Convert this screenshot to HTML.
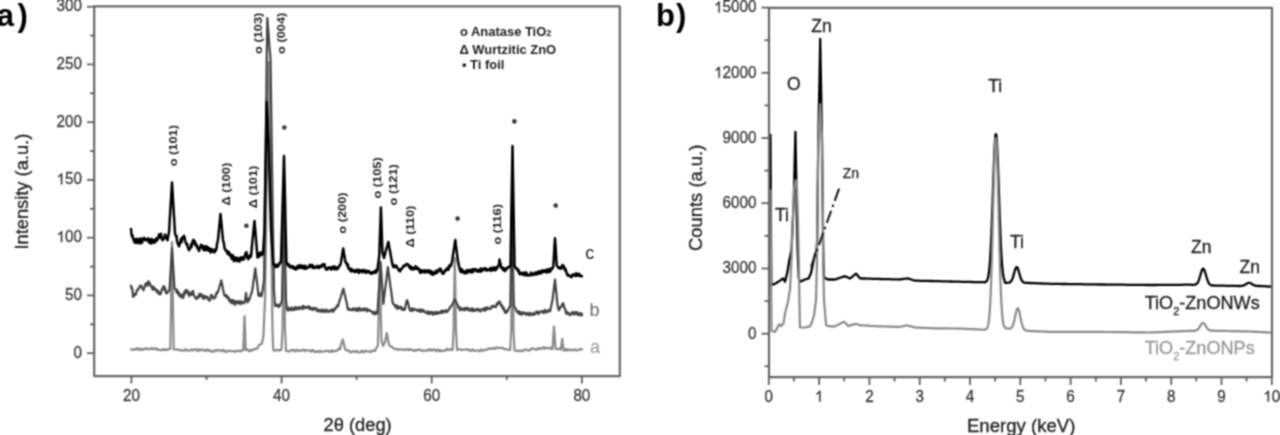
<!DOCTYPE html>
<html><head><meta charset="utf-8"><style>
html,body{margin:0;padding:0;background:#fff;width:1280px;height:435px;overflow:hidden;}
svg{display:block;font-family:"Liberation Sans",sans-serif;}
</style></head><body>
<svg width="1280" height="435" viewBox="0 0 1280 435" font-family="&quot;Liberation Sans&quot;, sans-serif">
<defs><filter id="bl" filterUnits="userSpaceOnUse" x="0" y="0" width="1280" height="435" color-interpolation-filters="sRGB"><feConvolveMatrix order="3" kernelMatrix="1 2 1 2 4 2 1 2 1" divisor="16" edgeMode="duplicate"/></filter></defs>
<rect width="1280" height="435" fill="#fff"/>
<g filter="url(#bl)">
<g fill="none" stroke-linejoin="round" stroke-linecap="round">
<path d="M131.0,349.2 L132.0,349.7 L133.0,349.3 L134.0,349.7 L135.0,349.7 L136.0,348.5 L137.0,348.3 L138.0,349.9 L139.0,348.7 L140.0,348.6 L141.0,350.1 L142.0,348.9 L143.0,349.6 L144.0,348.8 L145.0,349.1 L146.0,348.1 L147.0,349.0 L148.0,349.4 L149.0,348.6 L150.0,349.0 L151.0,348.9 L152.0,347.8 L153.0,349.3 L154.0,349.1 L155.0,348.6 L156.0,348.2 L157.0,349.9 L158.0,349.2 L159.0,349.8 L160.0,350.3 L161.0,349.9 L162.1,350.2 L163.1,349.1 L164.1,349.9 L165.2,349.1 L166.2,350.1 L167.2,349.9 L168.2,349.1 L169.3,349.1 L170.3,349.0 L171.2,295.5 L172.0,242.0 L172.8,295.8 L173.7,349.5 L174.7,349.5 L175.7,349.5 L176.7,349.3 L177.7,349.7 L178.8,349.8 L179.8,350.4 L180.8,350.0 L181.8,350.5 L182.8,350.4 L183.8,350.7 L184.8,350.1 L185.8,349.1 L186.8,350.5 L187.9,350.7 L188.9,350.6 L189.9,349.9 L190.9,350.3 L191.9,349.3 L192.9,350.5 L193.9,350.0 L194.9,349.5 L196.0,349.0 L197.0,350.7 L198.0,350.9 L199.0,349.2 L200.0,350.6 L201.0,349.9 L202.0,349.4 L203.0,349.7 L204.0,350.8 L205.0,351.0 L206.0,349.4 L207.0,350.6 L208.0,349.5 L209.0,350.9 L210.0,350.2 L211.0,351.3 L212.0,351.6 L213.0,350.7 L214.0,351.7 L215.0,350.4 L216.0,350.0 L217.0,351.0 L218.0,349.9 L219.0,350.2 L220.0,350.7 L221.0,351.1 L222.0,350.2 L223.0,349.9 L224.0,351.6 L225.0,350.5 L226.0,351.8 L227.0,351.7 L228.0,350.7 L229.0,350.8 L230.0,351.0 L231.0,351.2 L232.0,351.1 L233.0,351.1 L234.0,351.2 L235.0,351.8 L236.0,351.0 L237.0,350.8 L238.0,351.4 L239.0,350.5 L240.0,350.6 L241.1,351.6 L242.2,350.3 L243.3,350.0 L244.5,316.2 L245.7,350.0 L246.8,350.2 L247.8,349.5 L248.9,351.0 L250.0,351.3 L251.0,349.7 L252.0,350.5 L253.0,349.7 L254.0,349.8 L255.0,348.7 L256.0,349.1 L257.0,348.8 L258.0,347.0 L259.0,345.1 L260.0,344.4 L261.0,344.4 L262.0,343.0 L262.8,339.0 L263.5,335.0 L264.2,317.5 L265.0,300.0 L265.8,250.0 L266.5,200.0 L267.5,131.0 L268.5,62.0 L269.2,106.0 L270.0,150.0 L270.8,200.0 L271.5,250.0 L272.5,330.0 L273.3,350.3 L274.3,350.3 L275.4,350.9 L276.4,349.8 L277.4,349.7 L278.4,350.2 L279.4,350.7 L280.5,349.5 L281.5,349.9 L282.5,330.0 L283.2,290.0 L284.0,250.0 L285.0,330.0 L286.0,351.0 L287.0,350.9 L288.0,351.2 L289.0,351.6 L290.0,350.7 L291.0,350.2 L292.0,349.9 L293.0,350.7 L294.0,350.0 L295.0,351.2 L296.0,351.2 L297.0,349.8 L298.0,350.0 L299.0,351.0 L300.0,350.6 L301.0,351.0 L302.0,350.1 L303.0,349.7 L304.0,350.1 L305.0,351.1 L306.0,350.1 L307.0,350.3 L308.0,350.5 L309.0,350.5 L310.0,350.6 L311.0,351.6 L312.0,350.1 L313.0,349.9 L314.0,351.8 L315.0,351.7 L316.0,352.0 L317.0,350.9 L318.0,352.0 L319.0,352.0 L320.0,350.6 L321.0,351.7 L322.0,351.9 L323.0,351.6 L324.0,351.4 L325.0,351.0 L326.0,351.1 L327.0,350.9 L328.0,350.6 L329.0,351.7 L330.0,351.2 L331.0,352.0 L332.0,350.2 L333.0,351.6 L334.0,350.9 L335.0,351.1 L336.0,350.8 L337.0,350.6 L338.0,349.7 L339.0,348.3 L340.0,349.5 L340.9,345.1 L341.9,342.1 L342.8,339.5 L343.9,344.1 L345.0,348.8 L346.0,350.4 L347.0,350.3 L348.0,350.2 L349.0,350.6 L350.0,352.3 L351.0,351.6 L352.0,352.2 L353.0,351.3 L354.0,351.0 L355.0,351.7 L356.0,352.2 L357.0,350.9 L358.0,352.2 L359.0,352.4 L360.0,352.2 L361.0,352.2 L362.0,350.6 L363.0,351.9 L364.0,352.3 L365.0,350.7 L366.0,351.1 L367.0,351.1 L368.0,351.7 L369.0,351.4 L370.0,351.5 L371.0,352.2 L372.0,350.6 L373.0,350.7 L374.0,350.9 L375.0,350.8 L376.0,348.5 L377.0,347.2 L378.0,345.0 L378.8,308.5 L379.6,272.0 L380.6,306.0 L381.5,340.0 L382.2,343.0 L383.0,346.0 L384.0,344.0 L385.0,342.0 L385.9,337.5 L386.8,333.0 L387.9,339.0 L389.0,345.0 L390.0,345.9 L391.0,346.5 L392.0,346.8 L393.0,347.9 L394.0,348.4 L395.0,349.0 L396.0,349.5 L397.0,348.8 L398.0,349.8 L399.0,349.6 L400.0,349.4 L401.0,349.3 L402.0,349.5 L403.0,350.0 L404.0,349.5 L405.0,350.0 L406.0,349.6 L407.0,349.2 L408.0,349.8 L409.0,350.1 L410.0,348.9 L411.0,349.7 L412.0,349.7 L413.0,350.6 L414.0,350.8 L415.0,349.7 L416.0,350.7 L417.0,350.5 L418.0,349.5 L419.0,350.0 L420.0,349.3 L421.0,350.7 L422.0,350.4 L423.0,350.9 L424.0,350.7 L425.0,350.5 L426.0,350.7 L427.0,350.4 L428.0,349.5 L429.0,350.5 L430.0,349.3 L431.0,349.6 L432.0,350.9 L433.0,349.5 L434.0,349.6 L435.0,349.7 L436.0,351.3 L437.0,349.9 L438.0,349.6 L439.0,351.3 L440.0,349.8 L441.0,351.2 L442.0,350.7 L443.0,350.9 L444.0,351.0 L445.0,350.1 L446.0,350.4 L447.0,348.7 L448.0,350.0 L448.9,349.6 L449.8,350.1 L450.8,349.0 L451.7,349.9 L452.6,350.0 L453.6,330.0 L454.8,258.0 L456.0,330.0 L457.0,350.0 L458.0,349.8 L459.0,349.0 L460.0,349.0 L461.0,349.8 L462.0,350.1 L463.0,349.5 L464.0,349.5 L465.0,349.6 L466.0,349.5 L467.0,349.7 L468.0,349.1 L469.0,350.0 L470.0,351.0 L471.0,349.9 L472.0,350.7 L473.0,349.5 L474.0,350.7 L475.0,350.8 L476.0,350.7 L477.0,350.5 L478.0,350.5 L479.0,350.8 L480.0,351.4 L481.0,349.7 L482.0,349.5 L482.9,350.6 L483.9,350.8 L484.9,349.8 L485.9,349.5 L486.9,349.9 L487.8,348.7 L488.8,348.7 L489.8,348.4 L490.8,349.0 L491.7,348.3 L492.7,347.9 L493.7,348.7 L494.7,349.1 L495.7,347.6 L496.6,348.2 L497.6,347.5 L498.6,348.2 L499.7,348.0 L500.7,347.7 L501.8,347.9 L502.9,347.9 L503.9,349.1 L505.0,349.3 L506.0,348.9 L507.1,349.4 L508.1,349.8 L509.2,349.9 L510.2,350.0 L511.2,330.0 L512.3,240.0 L513.5,330.0 L514.5,350.5 L515.4,350.5 L516.3,351.2 L517.2,350.7 L518.2,350.5 L519.1,351.0 L520.0,351.3 L521.0,350.3 L522.0,350.9 L523.0,351.2 L524.0,350.1 L525.0,349.5 L526.0,349.4 L527.0,350.3 L528.0,350.1 L529.0,350.6 L530.0,350.3 L531.0,348.9 L532.0,348.7 L533.0,348.8 L534.0,348.5 L535.0,349.4 L536.0,349.6 L537.0,349.6 L538.0,348.2 L539.0,349.3 L540.0,348.1 L541.0,348.3 L542.0,348.8 L543.0,347.5 L544.0,347.4 L545.0,348.9 L546.0,347.7 L547.0,347.8 L548.0,348.2 L549.1,348.6 L550.2,347.5 L551.4,348.8 L552.5,349.0 L553.2,337.9 L554.0,326.7 L554.8,337.9 L555.6,349.0 L556.6,349.1 L557.7,349.2 L558.7,348.5 L559.8,348.9 L560.8,349.8 L562.2,338.9 L563.6,350.3 L564.7,350.4 L565.7,348.8 L566.8,350.5 L567.9,349.4 L568.9,350.2 L570.0,350.2 L571.0,349.3 L572.0,350.1 L573.0,350.0 L574.0,350.3 L575.0,349.2 L576.0,350.2 L577.0,350.6 L578.0,350.0 L579.0,349.8 L580.0,348.9 L581.0,349.7 L582.0,349.4" stroke="#8a8a8a" stroke-width="2.2"/>
<path d="M131.0,285.6 L131.5,288.5 L132.0,287.6 L132.5,290.7 L133.0,297.0 L133.5,296.3 L134.0,295.7 L134.5,293.9 L135.0,295.0 L135.5,294.7 L136.0,294.4 L136.5,291.1 L137.0,290.9 L137.5,289.4 L138.0,289.4 L138.5,289.3 L139.0,287.7 L139.5,286.3 L140.0,286.4 L140.5,286.0 L141.0,285.5 L141.5,285.9 L142.0,288.2 L142.5,288.1 L143.0,288.8 L143.5,290.3 L144.0,288.0 L144.5,287.5 L145.0,285.4 L145.5,283.8 L146.0,284.4 L146.5,283.1 L147.0,284.2 L147.5,285.8 L148.0,283.9 L148.5,281.2 L149.0,283.8 L149.5,282.8 L150.0,283.7 L150.5,285.6 L151.0,286.1 L151.5,287.3 L152.0,286.6 L152.5,289.6 L153.0,289.8 L153.5,286.5 L154.0,289.4 L154.5,289.5 L155.0,288.6 L155.5,289.2 L156.0,289.3 L156.5,291.7 L157.0,290.3 L157.5,292.3 L158.0,290.7 L158.5,293.5 L159.0,294.1 L159.5,292.7 L160.0,293.7 L160.5,294.4 L161.0,292.7 L161.5,290.8 L162.0,288.8 L162.5,288.4 L163.0,289.3 L163.5,286.1 L164.0,288.5 L164.5,286.8 L165.0,290.7 L165.5,289.2 L166.0,293.2 L166.5,293.2 L167.0,293.4 L167.5,292.8 L168.0,292.0 L168.5,291.2 L169.0,290.5 L169.5,289.8 L170.0,281.4 L170.5,273.1 L171.0,264.7 L171.5,256.4 L172.0,248.0 L172.5,256.1 L173.0,264.1 L173.5,272.2 L174.0,280.2 L174.5,288.3 L175.0,288.9 L175.5,289.5 L176.0,290.1 L176.5,292.4 L177.0,289.6 L177.5,292.1 L178.0,294.1 L178.5,292.0 L179.0,292.5 L179.5,296.1 L180.0,294.7 L180.5,296.7 L181.0,294.5 L181.5,296.7 L182.0,296.7 L182.5,298.0 L183.0,294.5 L183.5,297.4 L184.0,292.4 L184.5,294.6 L185.0,290.6 L185.5,290.7 L186.0,292.3 L186.5,289.9 L187.0,290.5 L187.5,293.3 L188.0,292.4 L188.5,291.5 L189.0,296.1 L189.5,293.0 L190.0,293.0 L190.5,294.0 L191.0,294.8 L191.5,295.0 L192.0,291.9 L192.5,292.5 L193.0,290.8 L193.5,293.4 L194.0,295.5 L194.5,296.1 L195.0,297.5 L195.5,297.6 L196.0,298.8 L196.5,298.8 L197.0,298.5 L197.5,296.8 L198.0,298.1 L198.5,296.0 L199.0,294.4 L199.5,295.4 L200.0,296.6 L200.5,293.7 L201.0,296.0 L201.5,295.5 L202.0,296.3 L202.5,295.0 L203.0,298.9 L203.5,296.1 L204.0,297.9 L204.5,297.4 L205.0,296.0 L205.5,298.5 L206.0,296.9 L206.5,296.7 L207.0,296.8 L207.5,297.5 L208.0,297.4 L208.5,300.0 L209.0,299.6 L209.5,300.8 L210.0,299.7 L210.5,299.1 L211.0,294.8 L211.5,296.0 L212.0,295.4 L212.5,297.2 L213.0,297.6 L213.5,298.6 L214.0,298.5 L214.5,296.8 L215.0,297.8 L215.5,297.2 L216.0,293.9 L216.5,293.0 L217.0,293.6 L217.5,291.3 L218.0,292.0 L218.5,290.3 L218.9,288.7 L219.4,287.0 L219.9,285.3 L220.4,283.6 L220.8,282.0 L221.3,280.3 L221.8,283.0 L222.4,285.8 L222.9,288.5 L223.5,291.3 L224.0,294.0 L224.5,295.6 L225.0,294.9 L225.5,295.8 L226.0,296.7 L226.5,295.0 L227.0,297.2 L227.5,298.2 L228.0,297.3 L228.5,297.2 L229.0,300.7 L229.5,299.1 L230.0,300.1 L230.5,302.2 L231.0,301.2 L231.5,300.1 L232.0,303.5 L232.5,301.1 L233.0,299.9 L233.5,303.1 L234.0,300.9 L234.5,302.1 L235.0,304.8 L235.5,304.0 L236.0,301.1 L236.5,303.0 L237.0,302.7 L237.5,303.0 L238.0,301.7 L238.5,303.4 L239.0,301.1 L239.5,301.9 L240.0,302.4 L240.5,304.2 L241.0,301.4 L241.5,303.5 L242.0,301.7 L242.5,302.9 L243.0,302.2 L243.5,302.4 L244.0,303.3 L244.5,302.1 L245.0,301.2 L245.5,297.0 L246.0,292.8 L246.5,297.5 L247.0,299.2 L247.5,302.5 L248.0,301.1 L248.5,298.5 L249.0,300.1 L249.5,299.2 L250.0,297.8 L250.5,295.8 L251.0,294.1 L251.5,293.1 L252.0,292.0 L252.5,288.6 L252.9,285.3 L253.4,281.9 L253.9,278.5 L254.4,275.1 L254.8,271.8 L255.3,268.4 L255.8,272.8 L256.3,277.1 L256.9,281.4 L257.4,285.8 L257.9,290.1 L258.4,295.1 L258.9,295.9 L259.4,294.9 L259.9,295.6 L260.5,293.4 L261.0,294.3 L261.5,296.3 L262.0,293.7 L262.5,290.8 L263.0,287.4 L263.5,283.7 L264.0,280.0 L264.5,242.6 L264.9,205.1 L265.4,167.7 L265.9,130.3 L266.4,92.9 L266.8,55.4 L267.3,18.0 L267.8,25.0 L268.4,32.0 L268.9,39.0 L269.4,46.0 L270.0,53.0 L270.5,60.0 L271.0,95.0 L271.5,130.0 L272.0,165.0 L272.5,200.0 L273.0,230.0 L273.5,260.0 L274.0,290.0 L274.5,298.0 L275.0,306.0 L275.5,306.0 L276.0,306.0 L276.5,304.9 L277.0,305.8 L277.5,304.5 L278.0,306.3 L278.5,307.2 L279.0,305.0 L279.5,306.0 L280.0,305.9 L280.5,304.2 L281.0,303.0 L281.5,301.5 L282.0,300.0 L282.5,275.0 L283.0,250.0 L283.5,225.0 L284.0,200.0 L284.5,225.0 L285.0,250.0 L285.5,275.0 L286.0,300.0 L286.5,304.6 L287.0,309.3 L287.5,309.8 L288.0,310.7 L288.5,309.6 L289.0,307.5 L289.5,308.9 L290.0,309.7 L290.5,310.2 L291.0,309.4 L291.5,309.9 L292.0,307.3 L292.5,310.2 L293.0,309.4 L293.5,309.0 L294.0,309.9 L294.5,309.8 L295.0,307.2 L295.5,309.5 L296.0,309.3 L296.5,307.5 L297.0,309.2 L297.5,308.7 L298.0,307.4 L298.5,309.3 L299.0,307.2 L299.5,308.7 L300.0,308.1 L300.5,307.4 L301.0,308.3 L301.5,307.8 L302.0,306.8 L302.5,309.1 L303.0,306.2 L303.5,305.8 L304.0,307.2 L304.5,308.2 L305.0,307.5 L305.5,307.9 L306.0,307.2 L306.5,307.9 L307.0,306.9 L307.5,306.8 L308.0,307.7 L308.5,306.3 L309.0,306.6 L309.5,308.9 L310.0,307.1 L310.5,309.1 L311.0,309.3 L311.5,308.2 L312.0,309.2 L312.5,309.7 L313.0,310.0 L313.5,307.8 L314.0,308.0 L314.5,308.8 L315.0,309.2 L315.5,308.8 L316.0,308.0 L316.5,309.9 L317.0,311.3 L317.5,309.5 L318.0,310.2 L318.5,309.8 L319.0,310.1 L319.5,311.6 L320.0,309.9 L320.5,311.0 L321.0,310.5 L321.5,310.7 L322.0,311.9 L322.5,309.3 L323.0,311.7 L323.5,310.0 L324.0,311.2 L324.5,311.7 L325.0,311.2 L325.5,310.4 L326.0,311.9 L326.5,309.5 L327.0,311.3 L327.5,310.5 L328.0,311.0 L328.5,312.0 L329.0,311.9 L329.5,311.4 L330.0,310.4 L330.5,310.0 L331.0,310.7 L331.5,309.8 L332.0,309.9 L332.5,312.0 L333.0,309.2 L333.5,311.3 L334.0,309.8 L334.5,309.7 L335.0,309.4 L335.5,307.8 L336.0,308.2 L336.5,306.4 L337.0,306.5 L337.5,305.2 L338.0,306.3 L338.5,304.9 L339.0,302.0 L339.5,301.2 L340.0,299.4 L340.5,298.0 L341.0,296.4 L341.5,294.9 L341.9,293.3 L342.4,291.7 L342.9,290.2 L343.4,288.6 L343.9,290.9 L344.4,293.2 L345.0,295.4 L345.5,297.7 L346.0,300.0 L346.5,302.1 L347.0,304.1 L347.5,307.4 L348.0,309.6 L348.5,308.3 L349.0,309.0 L349.5,309.9 L350.0,309.3 L350.5,309.4 L351.0,309.9 L351.5,310.1 L352.0,309.6 L352.5,310.4 L353.0,308.3 L353.5,309.5 L354.0,309.7 L354.5,308.8 L355.0,309.0 L355.5,308.3 L356.0,310.8 L356.5,308.8 L357.0,309.2 L357.5,310.6 L358.0,308.3 L358.5,310.8 L359.0,308.1 L359.5,307.8 L360.0,308.8 L360.5,308.8 L361.0,310.6 L361.5,310.5 L362.0,310.1 L362.5,309.1 L363.0,309.4 L363.5,308.5 L364.0,310.4 L364.5,308.9 L365.0,308.6 L365.5,309.9 L366.0,308.6 L366.5,309.3 L367.0,311.5 L367.5,309.0 L368.0,309.4 L368.5,309.8 L369.0,310.1 L369.5,310.8 L370.0,310.5 L370.5,311.0 L371.0,311.0 L371.5,311.2 L372.0,312.6 L372.4,311.9 L372.9,312.3 L373.4,313.8 L373.9,311.8 L374.4,312.3 L374.9,314.4 L375.4,312.8 L375.9,313.8 L376.5,311.6 L377.0,312.6 L377.5,313.5 L378.0,304.0 L378.5,295.6 L379.1,287.2 L379.6,278.8 L380.1,270.4 L380.6,262.0 L381.1,270.4 L381.7,278.8 L382.2,287.2 L382.8,295.6 L383.3,304.0 L383.8,299.9 L384.3,295.8 L384.8,291.7 L385.3,287.6 L385.9,283.4 L386.4,279.3 L386.9,275.2 L387.4,271.1 L387.9,267.0 L388.4,270.8 L388.9,274.6 L389.4,278.4 L389.9,282.2 L390.4,286.0 L391.0,289.8 L391.5,293.6 L392.0,297.4 L392.5,302.2 L393.0,303.4 L393.5,304.0 L394.0,305.1 L394.5,304.8 L395.0,305.0 L395.5,306.9 L396.0,305.3 L396.5,308.4 L397.0,307.7 L397.5,305.9 L398.0,308.7 L398.5,306.8 L399.0,307.7 L399.5,308.0 L400.0,306.8 L400.5,308.1 L401.0,306.8 L401.5,307.4 L402.0,309.9 L402.5,309.7 L403.0,308.8 L403.5,309.5 L404.0,310.2 L404.5,308.0 L405.0,309.3 L405.5,306.0 L406.0,303.9 L406.5,301.8 L407.0,300.1 L407.5,301.0 L408.0,302.9 L408.5,304.8 L409.0,306.9 L409.5,309.1 L410.0,310.6 L410.5,310.0 L411.0,309.4 L411.5,310.8 L412.0,308.4 L412.5,308.3 L413.0,310.6 L413.5,310.1 L414.0,308.8 L414.5,309.4 L415.0,309.2 L415.5,309.6 L416.0,309.7 L416.5,309.6 L417.0,311.0 L417.5,311.0 L418.0,310.3 L418.5,310.1 L419.0,309.5 L419.5,311.1 L420.0,311.9 L420.5,309.6 L421.0,311.3 L421.5,311.4 L422.0,311.4 L422.5,309.6 L423.0,311.4 L423.5,310.4 L424.0,310.6 L424.5,312.0 L425.0,312.3 L425.5,312.4 L426.0,312.9 L426.5,313.0 L427.0,312.4 L427.5,311.2 L428.0,313.7 L428.5,314.0 L429.0,314.2 L429.5,313.6 L430.0,311.9 L430.5,312.4 L431.0,312.0 L431.5,313.7 L432.0,313.3 L432.5,312.1 L433.0,314.6 L433.5,314.6 L434.0,314.3 L434.5,312.8 L435.0,312.2 L435.5,311.9 L436.0,313.8 L436.5,313.4 L437.0,312.0 L437.5,313.9 L438.0,312.8 L438.5,312.3 L439.0,312.2 L439.5,313.2 L440.0,312.3 L440.5,312.8 L441.0,310.9 L441.5,312.7 L442.0,311.2 L442.5,313.1 L443.0,310.7 L443.5,311.0 L444.0,311.5 L444.6,310.9 L445.1,311.2 L445.6,312.4 L446.1,310.0 L446.6,311.7 L447.1,311.3 L447.6,311.5 L448.1,310.3 L448.6,310.2 L449.1,309.0 L449.6,308.7 L450.1,307.2 L450.5,306.3 L451.0,306.5 L451.5,305.8 L452.0,305.0 L452.5,304.0 L452.9,303.0 L453.4,302.0 L453.9,301.0 L454.3,300.0 L454.8,299.0 L455.3,300.2 L455.9,301.4 L456.4,302.6 L457.0,303.8 L457.5,305.0 L458.0,305.9 L458.5,307.8 L459.0,306.9 L459.5,306.9 L460.0,310.5 L460.5,308.3 L461.0,308.7 L461.5,308.7 L462.0,308.5 L462.5,310.0 L463.0,308.8 L463.5,309.1 L464.0,309.0 L464.5,310.4 L465.0,307.8 L465.5,309.6 L466.0,308.1 L466.5,308.2 L467.0,309.6 L467.5,308.9 L468.0,307.9 L468.5,309.6 L469.0,310.6 L469.5,309.8 L470.0,309.3 L470.5,310.3 L471.0,310.7 L471.5,308.3 L472.0,308.9 L472.5,311.0 L473.0,311.0 L473.5,308.7 L474.0,310.4 L474.5,310.9 L475.0,310.1 L475.5,310.5 L476.0,310.0 L476.5,309.1 L477.0,309.1 L477.5,308.6 L478.0,310.6 L478.5,309.0 L479.0,310.6 L479.5,309.9 L480.0,310.1 L480.5,311.7 L481.0,309.7 L481.5,309.9 L482.0,309.5 L482.5,308.9 L483.0,308.8 L483.5,309.7 L484.0,310.5 L484.5,308.0 L485.0,310.7 L485.5,309.7 L486.0,307.6 L486.5,309.6 L487.0,308.5 L487.5,308.8 L488.0,307.3 L488.5,308.5 L489.0,308.5 L489.5,309.2 L490.0,308.5 L490.5,308.7 L491.0,308.6 L491.5,306.8 L492.0,306.0 L492.5,307.2 L493.0,305.9 L493.5,305.8 L494.0,306.2 L494.5,306.7 L495.0,306.8 L495.5,306.7 L496.0,307.1 L496.5,303.9 L497.0,304.8 L497.6,302.8 L498.1,304.1 L498.6,302.8 L499.1,301.4 L499.6,301.4 L500.1,303.4 L500.6,303.6 L501.2,306.0 L501.7,305.0 L502.2,305.8 L502.7,308.6 L503.2,308.4 L503.7,307.7 L504.2,310.7 L504.8,310.2 L505.3,313.0 L505.8,312.8 L506.3,312.7 L506.8,312.2 L507.3,310.3 L507.8,311.1 L508.3,308.8 L508.8,308.1 L509.3,307.4 L509.8,306.7 L510.3,306.0 L510.9,270.7 L511.4,235.3 L512.0,200.0 L512.5,226.5 L512.9,253.0 L513.3,279.5 L513.8,306.0 L514.3,306.7 L514.8,307.4 L515.3,308.1 L515.8,308.8 L516.2,309.9 L516.7,311.8 L517.2,312.0 L517.7,312.2 L518.2,311.7 L518.7,313.8 L519.2,311.2 L519.7,312.0 L520.1,313.9 L520.6,314.4 L521.1,312.9 L521.6,314.7 L522.1,312.3 L522.6,314.0 L523.1,312.4 L523.5,313.1 L524.0,313.1 L524.5,312.7 L525.0,314.1 L525.5,314.4 L526.0,313.6 L526.5,314.7 L527.0,312.8 L527.5,314.2 L528.0,314.2 L528.5,313.7 L529.0,315.3 L529.5,312.8 L530.0,313.7 L530.5,313.7 L531.0,313.4 L531.5,315.3 L532.0,313.9 L532.5,313.7 L533.0,313.4 L533.5,313.3 L534.0,314.9 L534.5,314.4 L535.0,313.9 L535.5,312.2 L536.0,313.5 L536.5,311.9 L537.0,312.5 L537.5,311.3 L538.0,313.4 L538.5,314.2 L539.0,313.0 L539.5,312.7 L540.0,311.6 L540.5,312.1 L541.0,312.0 L541.5,311.8 L542.0,311.2 L542.5,310.9 L543.0,312.5 L543.5,313.1 L544.0,312.5 L544.5,311.8 L545.0,309.8 L545.5,310.6 L546.0,312.2 L546.6,312.5 L547.1,311.1 L547.6,311.0 L548.1,311.3 L548.6,309.8 L549.2,311.2 L549.7,310.0 L550.2,311.4 L550.7,308.1 L551.1,306.7 L551.6,304.3 L552.0,302.1 L552.5,300.0 L553.0,295.9 L553.5,291.8 L554.0,287.7 L554.5,283.6 L555.0,279.5 L555.5,284.6 L556.0,289.7 L556.5,294.8 L557.0,299.9 L557.5,305.0 L558.0,307.2 L558.4,309.3 L558.9,310.2 L559.4,309.6 L559.9,307.1 L560.4,307.2 L561.0,307.1 L561.5,306.2 L562.0,304.5 L562.5,305.3 L563.0,303.2 L563.5,303.9 L564.0,306.9 L564.5,308.2 L565.0,308.7 L565.5,310.4 L566.0,313.3 L566.5,313.0 L567.0,312.0 L567.5,313.9 L568.0,313.1 L568.5,312.8 L569.0,313.9 L569.5,314.6 L570.0,315.3 L570.5,314.4 L571.0,314.3 L571.5,313.4 L572.0,312.1 L572.5,313.3 L573.0,312.1 L573.5,314.6 L574.0,312.7 L574.5,313.3 L575.0,313.6 L575.5,312.0 L576.0,314.3 L576.5,312.8 L577.0,312.2 L577.5,314.0 L578.0,313.6 L578.5,315.4 L579.0,314.0 L579.5,313.1 L580.0,313.0 L580.5,313.2 L581.0,314.9 L581.5,315.7 L582.0,313.8" stroke="#444" stroke-width="2.2"/>
<path d="M131.0,228.9 L131.5,234.5 L132.0,236.0 L132.5,235.3 L133.0,238.5 L133.5,239.0 L134.0,240.8 L134.5,242.3 L135.0,239.5 L135.5,239.1 L136.0,243.2 L136.5,241.1 L137.0,242.7 L137.5,238.7 L138.0,241.0 L138.5,242.3 L139.0,239.7 L139.5,243.4 L140.0,243.1 L140.5,238.5 L141.0,238.4 L141.5,240.9 L142.0,242.9 L142.5,239.9 L143.0,239.0 L143.5,240.0 L144.0,237.8 L144.5,238.7 L145.0,239.8 L145.5,240.2 L146.0,238.9 L146.5,239.0 L147.0,239.0 L147.5,240.4 L148.0,239.6 L148.5,238.3 L149.0,242.7 L149.5,241.3 L150.0,241.8 L150.5,239.4 L151.0,243.6 L151.5,242.8 L152.0,238.9 L152.5,240.0 L153.0,242.0 L153.5,241.8 L154.0,243.0 L154.5,240.2 L155.0,242.3 L155.5,241.0 L156.0,238.5 L156.5,239.5 L157.0,240.5 L157.5,239.8 L158.0,237.5 L158.5,237.6 L159.0,234.4 L159.5,235.1 L160.0,237.6 L160.5,235.3 L161.0,233.7 L161.5,237.0 L162.0,239.1 L162.5,240.2 L163.0,239.9 L163.5,238.7 L164.0,237.5 L164.5,237.4 L165.0,234.5 L165.5,235.6 L166.0,237.9 L166.5,237.4 L167.0,239.2 L167.5,240.3 L168.0,236.9 L168.5,234.6 L169.0,232.3 L169.5,224.0 L170.0,215.7 L170.5,207.4 L171.0,199.0 L171.5,190.7 L172.0,182.4 L172.5,190.9 L173.0,199.4 L173.5,207.9 L174.0,216.4 L174.5,224.9 L175.0,233.4 L175.5,234.9 L176.0,236.5 L176.5,235.5 L177.0,241.1 L177.5,242.6 L178.0,244.2 L178.5,244.8 L179.0,246.4 L179.5,244.0 L180.0,243.3 L180.5,241.6 L181.0,238.8 L181.5,242.3 L182.0,239.9 L182.5,237.2 L183.0,238.1 L183.5,237.2 L184.0,235.8 L184.5,237.2 L185.0,239.8 L185.5,241.8 L186.0,243.3 L186.5,244.2 L187.0,243.6 L187.5,246.3 L188.0,247.7 L188.5,249.2 L189.0,250.1 L189.5,249.2 L190.0,248.5 L190.5,248.0 L191.0,244.5 L191.5,246.9 L192.0,245.3 L192.5,241.5 L193.0,240.5 L193.5,239.8 L194.0,242.9 L194.5,241.3 L195.0,241.7 L195.5,245.4 L196.0,245.0 L196.5,244.6 L197.0,246.1 L197.5,248.5 L198.0,247.2 L198.5,248.2 L199.0,251.0 L199.5,249.0 L200.0,247.7 L200.5,247.8 L201.0,244.8 L201.5,246.8 L202.0,247.2 L202.5,246.1 L203.0,245.8 L203.5,250.1 L204.0,248.2 L204.5,246.7 L205.0,248.9 L205.5,250.2 L206.0,246.2 L206.5,246.3 L207.0,247.2 L207.5,250.3 L208.0,247.5 L208.5,250.5 L209.0,250.5 L209.5,250.0 L210.0,248.4 L210.5,252.6 L211.0,251.8 L211.5,250.5 L212.0,249.2 L212.5,251.6 L213.0,250.5 L213.5,251.6 L214.0,250.6 L214.5,252.4 L215.0,249.7 L215.5,249.0 L216.0,250.4 L216.5,248.0 L217.0,244.0 L217.5,242.0 L218.0,240.0 L218.5,234.8 L219.0,229.6 L219.5,224.4 L220.0,219.2 L220.5,214.0 L221.0,219.2 L221.5,224.4 L222.0,229.6 L222.5,234.8 L223.0,240.0 L223.5,241.9 L224.0,243.9 L224.5,248.3 L225.0,248.8 L225.5,249.7 L226.0,251.0 L226.5,251.2 L227.0,250.9 L227.5,253.8 L228.0,253.0 L228.5,252.1 L229.0,252.1 L229.5,255.4 L230.0,253.9 L230.5,255.5 L231.0,255.0 L231.5,258.4 L232.0,259.0 L232.5,254.9 L233.0,256.3 L233.5,257.4 L234.0,261.3 L234.5,260.3 L235.0,258.0 L235.5,257.4 L236.0,259.8 L236.5,260.6 L237.0,261.1 L237.5,258.1 L238.0,260.9 L238.5,259.9 L239.0,258.9 L239.5,261.5 L240.0,258.1 L240.5,259.6 L241.0,257.3 L241.5,257.5 L242.0,259.9 L242.5,257.4 L243.0,259.1 L243.5,258.5 L244.0,259.2 L244.5,256.3 L245.0,254.9 L245.4,253.5 L245.9,254.1 L246.4,252.0 L246.9,255.8 L247.5,258.3 L248.0,258.5 L248.5,259.1 L249.0,256.8 L249.5,255.8 L250.0,255.1 L250.5,257.0 L251.0,256.0 L251.5,251.3 L252.0,245.3 L252.5,240.4 L253.0,235.6 L253.5,230.7 L254.0,225.9 L254.5,221.0 L255.0,227.1 L255.5,233.2 L256.0,239.3 L256.5,245.4 L257.0,251.5 L257.5,257.6 L258.0,256.9 L258.5,257.1 L259.0,256.6 L259.5,253.1 L260.0,254.6 L260.5,252.6 L261.0,252.7 L261.5,255.3 L262.0,252.4 L262.5,253.1 L263.0,254.0 L263.5,246.0 L264.0,238.0 L264.5,230.0 L265.0,198.0 L265.6,166.0 L266.1,134.0 L266.6,102.0 L267.1,111.5 L267.6,121.0 L268.0,130.5 L268.5,140.0 L269.0,158.0 L269.5,176.0 L270.0,194.0 L270.5,212.0 L271.0,230.0 L271.5,236.9 L271.9,243.8 L272.4,250.7 L272.8,257.6 L273.3,264.5 L273.8,264.7 L274.4,264.9 L274.9,265.1 L275.4,267.0 L275.9,267.2 L276.5,264.5 L277.0,265.0 L277.5,265.9 L278.0,266.6 L278.5,264.6 L279.0,264.6 L279.5,264.1 L280.0,262.2 L280.5,262.6 L281.0,262.0 L281.5,244.3 L282.0,226.7 L282.5,209.0 L283.0,191.3 L283.5,173.7 L284.0,156.0 L284.5,177.2 L285.0,198.4 L285.4,219.6 L285.9,240.8 L286.4,262.0 L286.9,262.7 L287.4,264.6 L287.9,265.5 L288.5,264.2 L289.0,265.0 L289.5,266.4 L290.0,267.3 L290.5,267.5 L291.0,266.5 L291.5,265.9 L292.0,266.8 L292.5,266.4 L293.0,268.2 L293.5,266.7 L294.0,266.9 L294.5,269.0 L295.0,268.0 L295.5,269.4 L296.0,268.1 L296.5,269.1 L297.0,266.4 L297.5,267.4 L298.0,268.1 L298.5,265.4 L299.0,268.1 L299.5,265.2 L300.0,266.9 L300.5,267.8 L301.0,267.4 L301.5,265.8 L302.0,265.3 L302.5,266.8 L303.0,268.3 L303.5,266.3 L304.0,268.5 L304.5,266.1 L305.0,268.9 L305.5,265.8 L306.0,266.6 L306.5,268.4 L307.0,267.9 L307.5,268.1 L308.0,267.8 L308.5,267.3 L309.0,266.9 L309.5,265.1 L310.0,265.8 L310.5,264.9 L311.0,266.9 L311.5,266.8 L312.0,265.5 L312.5,265.0 L313.0,268.1 L313.5,267.7 L314.0,266.9 L314.5,267.0 L315.0,268.1 L315.5,266.8 L316.0,266.7 L316.5,266.6 L317.0,266.4 L317.5,265.7 L318.0,267.9 L318.5,267.2 L319.0,267.9 L319.5,266.2 L320.0,267.3 L320.5,266.0 L321.0,265.4 L321.5,265.4 L322.0,266.7 L322.5,264.7 L323.0,264.2 L323.5,264.4 L324.0,264.1 L324.5,264.3 L325.0,267.1 L325.5,268.0 L326.0,269.5 L326.5,268.7 L327.0,269.4 L327.5,269.4 L328.0,267.6 L328.5,268.4 L329.0,268.2 L329.5,267.2 L330.0,267.7 L330.5,268.2 L331.0,269.4 L331.5,269.4 L332.0,267.2 L332.5,268.5 L333.0,266.5 L333.5,266.5 L334.0,268.0 L334.5,269.3 L335.0,266.8 L335.5,268.9 L336.0,269.3 L336.5,267.4 L337.0,268.7 L337.5,269.2 L338.0,267.6 L338.5,267.7 L339.0,266.8 L339.5,265.3 L340.0,265.2 L340.5,264.3 L341.0,262.0 L341.6,258.6 L342.1,255.2 L342.6,251.9 L343.2,248.5 L343.7,251.2 L344.1,253.9 L344.6,256.6 L345.0,259.3 L345.5,262.0 L346.0,262.8 L346.5,263.7 L347.0,263.4 L347.5,266.2 L348.0,264.7 L348.5,268.7 L349.0,269.0 L349.5,269.2 L350.0,268.8 L350.5,271.1 L351.0,271.4 L351.5,268.7 L352.0,270.9 L352.5,271.2 L353.0,270.7 L353.5,270.9 L354.0,270.2 L354.5,271.9 L355.0,272.2 L355.5,270.2 L356.0,271.8 L356.5,270.6 L357.0,269.8 L357.5,270.4 L358.0,269.8 L358.5,272.6 L359.0,272.9 L359.5,270.1 L360.0,271.8 L360.5,271.2 L361.0,270.3 L361.5,270.9 L362.0,270.7 L362.5,272.5 L363.0,270.0 L363.5,270.6 L364.0,271.5 L364.5,270.1 L365.0,272.2 L365.5,272.1 L366.0,272.9 L366.5,270.8 L367.0,271.1 L367.5,272.0 L368.0,271.1 L368.5,272.2 L369.0,271.1 L369.5,272.6 L370.0,273.0 L370.5,273.1 L371.0,273.7 L371.5,272.3 L372.0,272.1 L372.5,273.4 L373.0,273.2 L373.5,272.5 L374.0,271.9 L374.5,271.6 L375.0,271.1 L375.5,273.0 L376.0,270.1 L376.5,271.8 L377.0,270.5 L377.5,270.0 L377.9,266.2 L378.4,262.5 L378.9,258.8 L379.3,255.0 L379.8,239.1 L380.4,223.3 L380.9,207.4 L381.4,222.3 L381.9,237.1 L382.4,252.0 L382.9,254.0 L383.5,256.0 L384.0,258.0 L384.5,256.0 L385.0,254.0 L385.5,252.0 L386.0,250.0 L386.5,248.4 L387.0,246.8 L387.4,245.1 L387.9,243.5 L388.4,241.9 L388.9,244.9 L389.4,247.9 L390.0,251.0 L390.5,254.0 L391.0,256.8 L391.5,259.5 L392.0,262.2 L392.5,264.7 L393.0,266.2 L393.5,267.3 L394.0,265.3 L394.5,265.2 L395.0,267.0 L395.5,267.0 L396.0,266.8 L396.5,265.9 L397.0,267.6 L397.5,268.0 L398.0,268.3 L398.5,270.2 L399.0,269.6 L399.5,270.5 L400.0,271.4 L400.5,270.3 L401.0,268.9 L401.5,269.2 L402.0,268.3 L402.5,267.8 L403.0,267.2 L403.4,265.9 L403.9,266.1 L404.4,265.6 L404.9,266.1 L405.4,265.0 L405.9,264.7 L406.4,263.9 L406.9,264.6 L407.4,264.5 L407.9,264.2 L408.4,264.5 L408.9,266.6 L409.5,267.7 L410.0,267.2 L410.5,266.4 L411.0,269.3 L411.5,268.7 L412.0,269.2 L412.5,267.5 L413.0,268.9 L413.5,269.5 L414.0,268.2 L414.5,267.8 L415.0,268.6 L415.5,266.2 L416.0,267.6 L416.5,268.9 L417.0,267.8 L417.5,267.6 L418.0,269.2 L418.5,269.7 L419.0,269.0 L419.5,269.7 L420.0,272.7 L420.5,270.6 L421.0,270.0 L421.5,272.5 L422.0,271.5 L422.5,271.0 L423.0,271.4 L423.5,272.2 L424.0,270.3 L424.5,271.9 L425.0,272.1 L425.5,272.5 L426.0,270.6 L426.5,271.8 L427.0,270.5 L427.5,271.6 L428.0,270.3 L428.5,272.4 L429.0,272.6 L429.5,270.8 L430.0,270.5 L430.5,273.4 L431.0,273.0 L431.5,273.9 L432.0,271.5 L432.5,274.9 L433.0,274.4 L433.5,273.0 L434.0,273.1 L434.5,273.9 L435.0,273.6 L435.5,271.3 L436.0,272.4 L436.5,270.5 L437.0,272.9 L437.5,270.8 L438.0,272.0 L438.5,271.1 L439.0,270.3 L439.5,268.8 L440.0,269.4 L440.5,268.8 L441.0,269.4 L441.5,272.1 L442.0,271.6 L442.5,273.6 L443.0,272.5 L443.5,273.7 L444.0,273.2 L444.5,271.4 L445.0,270.3 L445.5,270.8 L446.0,270.7 L446.5,268.9 L447.0,268.7 L447.5,267.8 L448.0,269.2 L448.5,269.8 L449.0,267.0 L449.5,265.4 L450.0,266.7 L450.5,266.1 L451.0,265.6 L451.5,263.4 L452.0,262.0 L452.5,258.9 L452.9,255.7 L453.4,252.6 L453.9,249.4 L454.4,246.3 L454.8,243.1 L455.3,240.0 L455.8,244.4 L456.4,248.8 L456.9,253.2 L457.5,257.6 L458.0,262.0 L458.5,263.0 L459.0,266.7 L459.5,267.4 L460.0,270.3 L460.5,271.6 L461.0,272.1 L461.5,269.1 L462.0,271.8 L462.5,272.2 L463.0,270.6 L463.5,271.0 L464.0,271.9 L464.5,273.2 L465.0,271.7 L465.5,273.2 L466.0,272.7 L466.5,270.6 L467.0,273.1 L467.5,270.0 L468.0,270.4 L468.5,272.1 L469.0,270.0 L469.5,271.0 L470.0,270.1 L470.5,271.1 L471.0,272.4 L471.5,272.5 L472.0,269.5 L472.5,269.5 L473.0,272.1 L473.5,269.3 L474.0,270.0 L474.5,269.4 L475.0,269.3 L475.5,269.0 L476.0,271.0 L476.5,271.3 L477.0,271.0 L477.5,271.5 L478.0,270.8 L478.5,269.8 L479.0,270.6 L479.5,271.7 L480.0,270.5 L480.5,269.1 L481.0,268.4 L481.5,271.4 L482.0,270.1 L482.5,269.3 L483.0,270.1 L483.5,269.9 L484.0,269.8 L484.5,268.1 L485.0,269.1 L485.5,269.3 L486.0,268.5 L486.5,270.8 L487.0,269.2 L487.5,270.0 L488.0,270.1 L488.5,270.1 L489.0,270.0 L489.5,270.1 L490.0,268.4 L490.5,270.8 L491.0,267.9 L491.5,270.5 L492.0,270.2 L492.5,270.2 L493.0,267.4 L493.5,267.5 L494.0,269.9 L494.5,268.7 L495.0,268.4 L495.5,270.4 L496.0,267.2 L496.5,268.8 L497.0,268.4 L497.5,267.3 L498.0,266.3 L498.5,265.5 L499.0,264.2 L499.5,259.4 L500.0,263.0 L500.5,263.4 L501.0,267.6 L501.5,267.1 L502.0,267.1 L502.5,268.5 L503.0,269.9 L503.5,268.7 L504.0,268.3 L504.5,270.8 L505.0,271.0 L505.5,270.8 L506.0,268.6 L506.5,268.7 L507.0,267.7 L507.5,268.4 L508.0,267.2 L508.5,266.9 L509.0,267.1 L509.5,266.7 L510.0,266.4 L510.5,266.0 L511.0,236.0 L511.5,206.0 L512.0,176.0 L512.5,146.0 L513.0,176.0 L513.5,206.0 L514.0,236.0 L514.5,266.0 L515.0,266.7 L515.5,267.4 L516.0,268.1 L516.5,268.4 L517.0,269.6 L517.5,268.8 L518.0,270.4 L518.5,271.9 L519.0,270.7 L519.5,274.1 L520.0,274.2 L520.5,273.1 L521.0,273.0 L521.5,273.2 L522.0,273.1 L522.5,274.6 L523.0,273.8 L523.5,273.9 L524.0,272.6 L524.5,275.2 L525.0,273.2 L525.5,273.2 L526.0,272.4 L526.5,275.5 L527.0,273.8 L527.5,275.3 L528.0,275.3 L528.5,275.5 L529.0,275.0 L529.5,275.3 L530.0,275.3 L530.5,274.8 L531.0,272.5 L531.5,273.8 L532.0,273.9 L532.5,275.2 L533.0,274.4 L533.5,274.1 L534.0,274.1 L534.5,272.7 L535.0,274.6 L535.5,273.5 L536.0,272.6 L536.5,272.8 L537.0,274.5 L537.5,272.9 L538.0,271.5 L538.5,271.4 L539.0,273.2 L539.5,272.7 L540.0,273.7 L540.5,271.2 L541.0,271.9 L541.5,272.9 L542.0,270.5 L542.5,270.6 L543.0,272.1 L543.5,271.0 L544.0,270.4 L544.5,270.9 L545.0,272.0 L545.5,271.6 L546.0,269.9 L546.5,269.8 L547.0,272.4 L547.5,271.5 L548.0,269.8 L548.5,272.1 L549.0,269.1 L549.5,270.2 L550.0,271.7 L550.5,270.6 L550.9,268.5 L551.4,269.9 L551.9,268.3 L552.4,268.5 L552.8,268.0 L553.3,266.0 L553.9,256.8 L554.4,247.5 L555.0,238.3 L555.5,245.2 L555.9,252.2 L556.3,259.1 L556.8,266.0 L557.3,266.3 L557.9,266.7 L558.4,267.8 L558.9,268.3 L559.5,267.7 L560.0,268.0 L560.5,267.4 L560.9,268.7 L561.4,268.1 L561.9,267.1 L562.4,264.9 L562.8,267.4 L563.3,265.8 L563.8,266.1 L564.4,267.7 L564.9,270.2 L565.5,269.1 L566.0,270.7 L566.5,271.9 L567.0,274.4 L567.5,274.4 L568.0,275.7 L568.5,274.8 L569.0,275.4 L569.5,275.8 L570.0,276.3 L570.5,276.2 L571.0,276.9 L571.5,277.2 L572.0,275.2 L572.5,275.8 L573.0,274.5 L573.5,274.3 L574.0,274.9 L574.5,275.0 L575.0,274.7 L575.5,276.0 L576.0,273.2 L576.5,274.7 L577.0,275.8 L577.5,274.9 L578.0,274.2 L578.5,273.7 L579.0,273.9 L579.5,275.9 L580.0,275.8 L580.5,275.2 L581.0,276.1 L581.5,276.3 L582.0,276.2" stroke="#000" stroke-width="2.5"/>
<path d="M770.4,135.0 L771.3,285.0 L773.1,284.4 L775.0,283.8 L777.5,282.2 L780.0,280.6 L781.5,279.5 L783.0,278.4 L785.0,281.7 L787.5,271.8 L789.0,262.0 L791.5,250.0 L793.8,200.0 L795.4,132.0 L796.6,200.0 L797.6,250.0 L798.8,278.4 L800.0,281.7 L802.5,280.6 L805.0,279.5 L806.9,278.9 L808.7,278.4 L811.0,273.0 L812.5,266.0 L814.5,256.0 L816.5,251.0 L817.2,240.0 L817.6,200.0 L818.3,140.0 L819.5,80.0 L820.2,38.9 L820.9,80.0 L822.0,140.0 L822.7,200.0 L823.1,245.0 L823.5,265.0 L824.0,277.3 L826.0,278.4 L828.0,279.5 L829.8,279.5 L831.5,279.5 L833.2,279.5 L835.0,279.5 L837.0,278.8 L838.9,278.2 L840.9,277.5 L842.8,276.9 L844.8,276.2 L846.5,276.9 L848.3,277.7 L850.0,278.4 L852.1,276.8 L854.1,275.2 L856.2,273.6 L858.1,276.0 L860.0,278.4 L862.0,278.5 L864.0,278.5 L866.0,278.6 L868.0,278.6 L870.0,278.7 L872.0,278.8 L874.0,278.8 L876.0,278.9 L878.0,278.9 L880.0,279.0 L882.0,279.1 L884.0,279.1 L886.0,279.1 L888.0,279.2 L890.0,279.2 L892.0,279.3 L894.0,279.4 L896.0,279.4 L898.0,279.4 L900.0,279.5 L901.9,279.2 L903.8,278.9 L905.6,278.7 L907.5,278.4 L909.4,278.9 L911.2,279.5 L913.1,280.1 L915.0,280.6 L916.9,280.7 L918.8,280.7 L920.6,280.8 L922.5,280.8 L924.4,280.9 L926.2,280.9 L928.1,280.9 L930.0,281.0 L932.0,281.0 L934.0,281.1 L936.0,281.1 L938.0,281.2 L940.0,281.2 L942.0,281.3 L944.0,281.3 L946.0,281.4 L948.0,281.4 L950.0,281.5 L952.0,281.5 L954.0,281.6 L956.0,281.6 L958.0,281.7 L960.0,281.7 L962.1,281.8 L964.2,281.8 L966.2,281.9 L968.3,281.9 L970.4,281.9 L972.5,282.0 L974.6,282.1 L976.7,282.1 L978.8,282.1 L980.8,282.2 L982.9,282.2 L985.0,282.3 L985.4,282.0 L985.8,281.8 L986.2,281.5 L986.6,281.1 L987.0,280.5 L987.4,279.7 L987.8,278.5 L988.2,276.9 L988.6,274.7 L989.0,271.8 L989.4,268.2 L989.8,263.6 L990.2,258.0 L990.6,251.2 L991.0,243.3 L991.4,234.2 L991.8,224.1 L992.2,213.0 L992.6,201.3 L993.0,189.4 L993.4,177.5 L993.8,166.2 L994.2,156.0 L994.6,147.3 L995.0,140.5 L995.4,136.0 L995.8,134.1 L996.2,134.7 L996.6,138.0 L997.0,143.7 L997.4,151.5 L997.8,161.0 L998.2,171.9 L998.6,183.5 L999.0,195.5 L999.4,207.4 L999.8,218.8 L1000.2,229.5 L1000.6,239.1 L1001.0,247.7 L1001.4,255.0 L1001.8,261.2 L1002.2,266.3 L1002.6,270.5 L1003.0,273.7 L1003.4,276.2 L1003.8,278.1 L1004.2,279.5 L1004.6,280.6 L1005.0,282.8 L1005.5,282.8 L1006.0,282.8 L1006.5,282.8 L1007.0,282.8 L1007.5,282.8 L1008.0,282.7 L1008.5,282.7 L1009.0,282.6 L1009.5,282.5 L1010.0,282.2 L1010.5,281.9 L1011.0,281.4 L1011.5,280.7 L1012.0,279.7 L1012.5,278.5 L1013.0,277.1 L1013.5,275.4 L1014.0,273.6 L1014.5,271.8 L1015.0,270.1 L1015.5,268.7 L1016.0,267.7 L1016.5,267.1 L1017.0,267.2 L1017.5,267.8 L1018.0,268.9 L1018.5,270.4 L1019.0,272.2 L1019.5,274.0 L1020.0,275.8 L1020.5,277.4 L1021.0,278.8 L1021.5,279.9 L1022.0,280.8 L1022.5,281.5 L1023.0,282.0 L1023.5,282.3 L1024.0,282.5 L1024.5,282.6 L1025.0,282.8 L1027.1,282.9 L1029.2,283.0 L1031.2,283.1 L1033.3,283.1 L1035.4,283.2 L1037.5,283.3 L1039.6,283.4 L1041.7,283.5 L1043.8,283.6 L1045.8,283.6 L1047.9,283.7 L1050.0,283.8 L1052.0,283.8 L1054.0,283.9 L1056.0,283.9 L1058.0,283.9 L1060.0,283.9 L1062.0,284.0 L1064.0,284.0 L1066.0,284.0 L1068.0,284.1 L1070.0,284.1 L1072.0,284.1 L1074.0,284.1 L1076.0,284.2 L1078.0,284.2 L1080.0,284.2 L1082.0,284.2 L1084.0,284.3 L1086.0,284.3 L1088.0,284.3 L1090.0,284.4 L1092.0,284.4 L1094.0,284.4 L1096.0,284.4 L1098.0,284.5 L1100.0,284.5 L1102.0,284.5 L1104.0,284.5 L1106.0,284.6 L1108.0,284.6 L1110.0,284.6 L1112.0,284.6 L1114.0,284.6 L1116.0,284.7 L1118.0,284.7 L1120.0,284.7 L1122.0,284.7 L1124.0,284.7 L1126.0,284.8 L1128.0,284.8 L1130.0,284.8 L1132.0,284.8 L1134.0,284.8 L1136.0,284.9 L1138.0,284.9 L1140.0,284.9 L1142.0,284.9 L1144.0,284.9 L1146.0,285.0 L1148.0,285.0 L1150.0,285.0 L1152.0,285.0 L1154.0,285.0 L1156.0,285.0 L1158.0,284.9 L1160.0,284.9 L1162.0,284.9 L1164.0,284.9 L1166.0,284.9 L1168.0,284.9 L1170.0,284.9 L1172.0,284.8 L1174.0,284.8 L1176.0,284.8 L1178.0,284.8 L1180.0,284.8 L1182.0,284.8 L1184.0,284.7 L1186.0,284.7 L1188.0,284.7 L1190.0,284.7 L1190.5,284.7 L1191.0,284.7 L1191.5,284.8 L1192.0,284.8 L1192.5,284.8 L1193.0,284.8 L1193.5,284.8 L1194.0,284.8 L1194.5,284.7 L1195.0,284.6 L1195.5,284.5 L1196.0,284.3 L1196.5,284.0 L1197.0,283.5 L1197.5,282.9 L1198.0,282.0 L1198.5,281.0 L1199.0,279.7 L1199.5,278.1 L1200.0,276.5 L1200.5,274.7 L1201.0,273.0 L1201.5,271.4 L1202.0,270.1 L1202.5,269.1 L1203.0,268.7 L1203.5,268.8 L1204.0,269.4 L1204.5,270.4 L1205.0,271.8 L1205.5,273.5 L1206.0,275.3 L1206.5,277.0 L1207.0,278.7 L1207.5,280.2 L1208.0,281.5 L1208.5,282.6 L1209.0,283.4 L1209.5,284.1 L1210.0,284.5 L1210.5,284.9 L1211.0,285.1 L1211.5,285.3 L1212.0,285.4 L1212.5,285.4 L1213.0,285.5 L1213.5,285.5 L1214.0,285.5 L1214.5,285.6 L1216.5,285.6 L1218.4,285.6 L1220.4,285.7 L1222.3,285.7 L1224.3,285.7 L1226.3,285.8 L1228.2,285.8 L1230.2,285.8 L1232.2,285.9 L1234.1,285.9 L1236.1,285.9 L1238.0,286.0 L1240.0,286.0 L1240.5,285.9 L1241.0,285.9 L1241.5,285.9 L1242.0,285.8 L1242.5,285.7 L1243.0,285.6 L1243.5,285.4 L1244.0,285.2 L1244.5,285.0 L1245.0,284.7 L1245.5,284.4 L1246.0,284.1 L1246.5,283.7 L1247.0,283.4 L1247.5,283.2 L1248.0,283.0 L1248.5,282.8 L1249.0,282.8 L1249.5,282.8 L1250.0,283.0 L1250.5,283.2 L1251.0,283.4 L1251.5,283.7 L1252.0,284.1 L1252.5,284.4 L1253.0,284.7 L1253.5,285.0 L1254.0,285.2 L1254.5,285.4 L1255.0,285.6 L1255.5,285.7 L1256.0,285.8 L1256.5,285.9 L1257.0,285.9 L1257.5,285.9 L1258.0,286.0 L1258.5,286.0 L1259.0,286.0 L1259.5,286.0 L1260.0,286.0 L1262.0,286.1 L1264.0,286.2 L1266.0,286.4 L1268.0,286.5 L1270.0,286.6 L1272.0,286.7" stroke="#000" stroke-width="2.3"/>
<path d="M770.4,190.0 L771.5,330.8 L773.2,331.4 L775.0,331.9 L777.1,328.0 L779.2,324.2 L781.0,326.4 L783.6,323.1 L785.0,313.3 L787.9,302.4 L790.0,289.3 L791.5,260.0 L792.8,220.0 L794.0,190.0 L795.5,180.0 L797.0,190.0 L798.0,220.0 L798.8,260.0 L799.4,300.0 L800.0,327.5 L802.5,327.5 L805.0,327.5 L807.5,326.9 L810.0,326.4 L812.0,322.0 L814.0,315.5 L816.0,300.0 L817.0,260.0 L817.6,200.0 L818.3,140.0 L820.2,104.0 L822.0,140.0 L822.7,200.0 L823.2,260.0 L824.0,300.0 L826.1,325.3 L828.0,325.9 L830.0,326.4 L832.5,326.4 L835.0,326.4 L836.8,325.4 L838.7,324.5 L840.5,323.5 L842.4,322.6 L844.2,321.6 L846.1,323.8 L848.0,326.0 L850.0,325.4 L852.0,324.9 L854.0,324.4 L856.0,323.8 L858.0,324.6 L860.0,325.3 L862.0,325.4 L864.0,325.5 L866.0,325.6 L868.0,325.7 L870.0,325.9 L872.0,326.0 L874.0,326.1 L876.0,326.2 L878.0,326.3 L880.0,326.4 L882.0,326.4 L884.0,326.5 L886.0,326.5 L888.0,326.6 L890.0,326.6 L892.0,326.7 L894.0,326.8 L896.0,326.8 L898.0,326.8 L900.0,326.9 L901.8,326.5 L903.5,326.1 L905.2,325.7 L907.0,325.3 L909.0,325.9 L911.0,326.4 L913.0,326.9 L915.0,327.5 L916.9,327.6 L918.8,327.7 L920.6,327.8 L922.5,327.9 L924.4,327.9 L926.2,328.0 L928.1,328.1 L930.0,328.2 L932.0,328.2 L934.0,328.3 L936.0,328.3 L938.0,328.3 L940.0,328.3 L942.0,328.4 L944.0,328.4 L946.0,328.4 L948.0,328.4 L950.0,328.5 L952.0,328.5 L954.0,328.5 L956.0,328.5 L958.0,328.6 L960.0,328.6 L962.1,328.7 L964.2,328.8 L966.2,328.9 L968.3,329.0 L970.4,329.1 L972.5,329.1 L974.6,329.2 L976.7,329.3 L978.8,329.4 L980.8,329.5 L982.9,329.6 L985.0,329.7 L985.4,329.5 L985.8,329.3 L986.2,329.1 L986.6,328.7 L987.0,328.2 L987.4,327.4 L987.8,326.3 L988.2,324.7 L988.6,322.5 L989.0,319.4 L989.4,315.4 L989.8,310.2 L990.2,303.5 L990.6,295.3 L991.0,285.4 L991.4,273.7 L991.8,260.4 L992.2,245.7 L992.6,229.8 L993.0,213.4 L993.4,196.9 L993.8,181.2 L994.2,166.9 L994.6,154.9 L995.0,145.7 L995.4,140.0 L995.8,138.0 L996.2,140.0 L996.6,145.6 L997.0,154.7 L997.4,166.7 L997.8,180.9 L998.2,196.6 L998.6,213.0 L999.0,229.4 L999.4,245.2 L999.8,260.0 L1000.2,273.2 L1000.6,284.8 L1001.0,294.7 L1001.4,302.9 L1001.8,309.4 L1002.2,314.6 L1002.6,318.6 L1003.0,321.6 L1003.4,323.8 L1003.8,325.3 L1004.2,326.4 L1004.6,327.1 L1005.5,328.3 L1006.0,328.3 L1006.5,328.4 L1007.0,328.4 L1007.5,328.5 L1008.0,328.5 L1008.5,328.6 L1009.0,328.6 L1009.5,328.6 L1010.0,328.5 L1010.5,328.4 L1011.0,328.2 L1011.5,327.8 L1012.0,327.2 L1012.5,326.4 L1013.0,325.2 L1013.5,323.7 L1014.0,321.8 L1014.5,319.7 L1015.0,317.3 L1015.5,314.9 L1016.0,312.5 L1016.5,310.5 L1017.0,309.1 L1017.5,308.3 L1018.0,308.2 L1018.5,309.0 L1019.0,310.5 L1019.5,312.5 L1020.0,314.9 L1020.5,317.4 L1021.0,319.9 L1021.5,322.3 L1022.0,324.3 L1022.5,326.0 L1023.0,327.3 L1023.5,328.3 L1024.0,329.1 L1024.5,329.6 L1025.0,330.0 L1025.5,330.2 L1026.0,330.4 L1026.5,330.5 L1027.0,330.6 L1027.5,330.7 L1028.0,330.8 L1028.5,330.8 L1029.0,330.9 L1029.5,331.0 L1031.5,331.1 L1033.6,331.2 L1035.7,331.2 L1037.7,331.3 L1039.8,331.4 L1041.8,331.5 L1043.8,331.6 L1045.9,331.7 L1048.0,331.8 L1050.0,331.9 L1052.0,331.9 L1054.0,331.9 L1056.0,331.9 L1058.0,331.9 L1060.0,331.9 L1062.0,331.9 L1064.0,331.9 L1066.0,331.9 L1068.0,331.9 L1070.0,331.9 L1072.0,331.9 L1074.0,331.9 L1076.0,331.9 L1078.0,331.9 L1080.0,331.9 L1082.0,331.9 L1084.0,331.9 L1086.0,331.9 L1088.0,331.9 L1090.0,331.9 L1092.0,331.9 L1094.0,331.9 L1096.0,331.9 L1098.0,331.9 L1100.0,331.9 L1102.0,331.9 L1104.0,331.9 L1106.0,332.0 L1108.0,332.0 L1110.0,332.0 L1112.0,332.0 L1114.0,332.1 L1116.0,332.1 L1118.0,332.1 L1120.0,332.1 L1122.0,332.2 L1124.0,332.2 L1126.0,332.2 L1128.0,332.2 L1130.0,332.3 L1132.0,332.3 L1134.0,332.3 L1136.0,332.3 L1138.0,332.4 L1140.0,332.4 L1142.0,332.4 L1144.0,332.4 L1146.0,332.5 L1148.0,332.5 L1150.0,332.5 L1152.0,332.4 L1154.0,332.3 L1156.1,332.2 L1158.1,332.2 L1160.1,332.1 L1162.2,332.0 L1164.2,331.9 L1166.2,331.8 L1168.2,331.7 L1170.2,331.7 L1172.3,331.6 L1174.3,331.5 L1176.3,331.4 L1178.3,331.3 L1180.4,331.2 L1182.4,331.1 L1184.4,331.1 L1186.5,331.0 L1188.5,330.9 L1190.5,330.8 L1191.0,330.8 L1191.5,330.8 L1192.0,330.8 L1192.5,330.8 L1193.0,330.8 L1193.5,330.8 L1194.0,330.8 L1194.5,330.7 L1195.0,330.7 L1195.5,330.6 L1196.0,330.4 L1196.5,330.3 L1197.0,330.0 L1197.5,329.6 L1198.0,329.2 L1198.5,328.6 L1199.0,328.0 L1199.5,327.2 L1200.0,326.4 L1200.5,325.5 L1201.0,324.7 L1201.5,324.0 L1202.0,323.4 L1202.5,323.1 L1203.0,323.0 L1203.5,323.1 L1204.0,323.4 L1204.5,324.0 L1205.0,324.7 L1205.5,325.5 L1206.0,326.4 L1206.5,327.2 L1207.0,327.9 L1207.5,328.6 L1208.0,329.2 L1208.5,329.6 L1209.0,330.0 L1209.5,330.2 L1210.0,330.4 L1210.5,330.5 L1211.0,330.6 L1211.5,330.6 L1212.0,330.7 L1212.5,330.7 L1213.0,330.7 L1213.5,330.7 L1214.0,330.7 L1214.5,330.7 L1216.5,330.8 L1218.4,330.8 L1220.4,330.8 L1222.4,330.9 L1224.4,330.9 L1226.3,331.0 L1228.3,331.0 L1230.3,331.1 L1232.2,331.1 L1234.2,331.2 L1236.2,331.2 L1238.2,331.2 L1240.1,331.3 L1242.1,331.3 L1244.1,331.4 L1246.1,331.4 L1248.0,331.5 L1250.0,331.5 L1252.0,331.6 L1254.0,331.7 L1256.0,331.8 L1258.0,331.9 L1260.0,332.0 L1262.0,332.1 L1264.0,332.2 L1266.0,332.3 L1268.0,332.4 L1270.0,332.5 L1272.0,332.6" stroke="#8a8a8a" stroke-width="2.2"/>
</g>
<g stroke="#686868" stroke-width="2.2" fill="none" stroke-linejoin="round">
<rect x="94.2" y="6.3" width="525.5999999999999" height="369.9"/>
<rect x="769" y="7.8" width="503" height="369.4"/>
</g>
<g stroke="#606060" stroke-width="1.8" fill="none">
<line x1="87" y1="353.2" x2="94.2" y2="353.2"/>
<line x1="90" y1="324.3" x2="94.2" y2="324.3"/>
<line x1="87" y1="295.4" x2="94.2" y2="295.4"/>
<line x1="90" y1="266.6" x2="94.2" y2="266.6"/>
<line x1="87" y1="237.7" x2="94.2" y2="237.7"/>
<line x1="90" y1="208.8" x2="94.2" y2="208.8"/>
<line x1="87" y1="179.9" x2="94.2" y2="179.9"/>
<line x1="90" y1="151.1" x2="94.2" y2="151.1"/>
<line x1="87" y1="122.2" x2="94.2" y2="122.2"/>
<line x1="90" y1="93.3" x2="94.2" y2="93.3"/>
<line x1="87" y1="64.4" x2="94.2" y2="64.4"/>
<line x1="90" y1="35.6" x2="94.2" y2="35.6"/>
<line x1="87" y1="6.7" x2="94.2" y2="6.7"/>
<line x1="131.4" y1="376.2" x2="131.4" y2="383.5"/>
<line x1="206.5" y1="376.2" x2="206.5" y2="380.0"/>
<line x1="281.6" y1="376.2" x2="281.6" y2="383.5"/>
<line x1="356.6" y1="376.2" x2="356.6" y2="380.0"/>
<line x1="431.7" y1="376.2" x2="431.7" y2="383.5"/>
<line x1="506.8" y1="376.2" x2="506.8" y2="380.0"/>
<line x1="581.9" y1="376.2" x2="581.9" y2="383.5"/>
<line x1="764.5" y1="366.3" x2="769" y2="366.3"/>
<line x1="761.5" y1="333.7" x2="769" y2="333.7"/>
<line x1="764.5" y1="301.1" x2="769" y2="301.1"/>
<line x1="761.5" y1="268.5" x2="769" y2="268.5"/>
<line x1="764.5" y1="235.9" x2="769" y2="235.9"/>
<line x1="761.5" y1="203.2" x2="769" y2="203.2"/>
<line x1="764.5" y1="170.6" x2="769" y2="170.6"/>
<line x1="761.5" y1="138.0" x2="769" y2="138.0"/>
<line x1="764.5" y1="105.4" x2="769" y2="105.4"/>
<line x1="761.5" y1="72.8" x2="769" y2="72.8"/>
<line x1="764.5" y1="40.2" x2="769" y2="40.2"/>
<line x1="761.5" y1="7.6" x2="769" y2="7.6"/>
<line x1="768.8" y1="377.2" x2="768.8" y2="385.0"/>
<line x1="793.9" y1="377.2" x2="793.9" y2="381.5"/>
<line x1="819.1" y1="377.2" x2="819.1" y2="385.0"/>
<line x1="844.2" y1="377.2" x2="844.2" y2="381.5"/>
<line x1="869.4" y1="377.2" x2="869.4" y2="385.0"/>
<line x1="894.5" y1="377.2" x2="894.5" y2="381.5"/>
<line x1="919.7" y1="377.2" x2="919.7" y2="385.0"/>
<line x1="944.8" y1="377.2" x2="944.8" y2="381.5"/>
<line x1="970.0" y1="377.2" x2="970.0" y2="385.0"/>
<line x1="995.1" y1="377.2" x2="995.1" y2="381.5"/>
<line x1="1020.3" y1="377.2" x2="1020.3" y2="385.0"/>
<line x1="1045.4" y1="377.2" x2="1045.4" y2="381.5"/>
<line x1="1070.6" y1="377.2" x2="1070.6" y2="385.0"/>
<line x1="1095.8" y1="377.2" x2="1095.8" y2="381.5"/>
<line x1="1120.9" y1="377.2" x2="1120.9" y2="385.0"/>
<line x1="1146.0" y1="377.2" x2="1146.0" y2="381.5"/>
<line x1="1171.2" y1="377.2" x2="1171.2" y2="385.0"/>
<line x1="1196.3" y1="377.2" x2="1196.3" y2="381.5"/>
<line x1="1221.5" y1="377.2" x2="1221.5" y2="385.0"/>
<line x1="1246.6" y1="377.2" x2="1246.6" y2="381.5"/>
<line x1="1271.8" y1="377.2" x2="1271.8" y2="385.0"/>
</g>
<line x1="839.5" y1="187.5" x2="811" y2="267" stroke="#222" stroke-width="2.2" stroke-dasharray="13,4,2.5,4" stroke-dashoffset="-1.2"/>
<text transform="translate(73.52,357.50) scale(0.965,1)" font-size="15.8" fill="#3a3a3a" stroke="#3a3a3a" stroke-width="0.3">0</text>
<text transform="translate(65.04,299.75) scale(0.965,1)" font-size="15.8" fill="#3a3a3a" stroke="#3a3a3a" stroke-width="0.3">50</text>
<text transform="translate(56.56,242.00) scale(0.965,1)" font-size="15.8" fill="#3a3a3a" stroke="#3a3a3a" stroke-width="0.3">&#8199;00</text><path transform="translate(56.56,242.00) scale(0.00744,-0.00771)" d="M583,0 L583,1100 L223,880 L223,1060 L640,1409 L763,1409 L763,0 Z" fill="#3a3a3a" stroke="#3a3a3a" stroke-width="38.9"/>
<text transform="translate(56.56,184.25) scale(0.965,1)" font-size="15.8" fill="#3a3a3a" stroke="#3a3a3a" stroke-width="0.3">&#8199;50</text><path transform="translate(56.56,184.25) scale(0.00744,-0.00771)" d="M583,0 L583,1100 L223,880 L223,1060 L640,1409 L763,1409 L763,0 Z" fill="#3a3a3a" stroke="#3a3a3a" stroke-width="38.9"/>
<text transform="translate(56.56,126.50) scale(0.965,1)" font-size="15.8" fill="#3a3a3a" stroke="#3a3a3a" stroke-width="0.3">200</text>
<text transform="translate(56.56,68.75) scale(0.965,1)" font-size="15.8" fill="#3a3a3a" stroke="#3a3a3a" stroke-width="0.3">250</text>
<text transform="translate(56.56,11.00) scale(0.965,1)" font-size="15.8" fill="#3a3a3a" stroke="#3a3a3a" stroke-width="0.3">300</text>
<text transform="translate(122.92,400.80) scale(0.965,1)" font-size="15.8" fill="#3a3a3a" stroke="#3a3a3a" stroke-width="0.3">20</text>
<text transform="translate(273.08,400.80) scale(0.965,1)" font-size="15.8" fill="#3a3a3a" stroke="#3a3a3a" stroke-width="0.3">40</text>
<text transform="translate(423.24,400.80) scale(0.965,1)" font-size="15.8" fill="#3a3a3a" stroke="#3a3a3a" stroke-width="0.3">60</text>
<text transform="translate(573.40,400.80) scale(0.965,1)" font-size="15.8" fill="#3a3a3a" stroke="#3a3a3a" stroke-width="0.3">80</text>
<text transform="translate(748.02,338.60) scale(0.965,1)" font-size="15.8" fill="#3a3a3a" stroke="#3a3a3a" stroke-width="0.3">0</text>
<text transform="translate(722.58,273.37) scale(0.965,1)" font-size="15.8" fill="#3a3a3a" stroke="#3a3a3a" stroke-width="0.3">3000</text>
<text transform="translate(722.58,208.15) scale(0.965,1)" font-size="15.8" fill="#3a3a3a" stroke="#3a3a3a" stroke-width="0.3">6000</text>
<text transform="translate(722.58,142.92) scale(0.965,1)" font-size="15.8" fill="#3a3a3a" stroke="#3a3a3a" stroke-width="0.3">9000</text>
<text transform="translate(714.10,77.70) scale(0.965,1)" font-size="15.8" fill="#3a3a3a" stroke="#3a3a3a" stroke-width="0.3">&#8199;2000</text><path transform="translate(714.10,77.70) scale(0.00744,-0.00771)" d="M583,0 L583,1100 L223,880 L223,1060 L640,1409 L763,1409 L763,0 Z" fill="#3a3a3a" stroke="#3a3a3a" stroke-width="38.9"/>
<text transform="translate(714.10,12.47) scale(0.965,1)" font-size="15.8" fill="#3a3a3a" stroke="#3a3a3a" stroke-width="0.3">&#8199;5000</text><path transform="translate(714.10,12.47) scale(0.00744,-0.00771)" d="M583,0 L583,1100 L223,880 L223,1060 L640,1409 L763,1409 L763,0 Z" fill="#3a3a3a" stroke="#3a3a3a" stroke-width="38.9"/>
<text transform="translate(764.56,401.60) scale(0.965,1)" font-size="15.8" fill="#3a3a3a" stroke="#3a3a3a" stroke-width="0.3">0</text>
<text transform="translate(814.86,401.60) scale(0.965,1)" font-size="15.8" fill="#3a3a3a" stroke="#3a3a3a" stroke-width="0.3">&#8199;</text><path transform="translate(814.86,401.60) scale(0.00744,-0.00771)" d="M583,0 L583,1100 L223,880 L223,1060 L640,1409 L763,1409 L763,0 Z" fill="#3a3a3a" stroke="#3a3a3a" stroke-width="38.9"/>
<text transform="translate(865.16,401.60) scale(0.965,1)" font-size="15.8" fill="#3a3a3a" stroke="#3a3a3a" stroke-width="0.3">2</text>
<text transform="translate(915.46,401.60) scale(0.965,1)" font-size="15.8" fill="#3a3a3a" stroke="#3a3a3a" stroke-width="0.3">3</text>
<text transform="translate(965.76,401.60) scale(0.965,1)" font-size="15.8" fill="#3a3a3a" stroke="#3a3a3a" stroke-width="0.3">4</text>
<text transform="translate(1016.06,401.60) scale(0.965,1)" font-size="15.8" fill="#3a3a3a" stroke="#3a3a3a" stroke-width="0.3">5</text>
<text transform="translate(1066.36,401.60) scale(0.965,1)" font-size="15.8" fill="#3a3a3a" stroke="#3a3a3a" stroke-width="0.3">6</text>
<text transform="translate(1116.66,401.60) scale(0.965,1)" font-size="15.8" fill="#3a3a3a" stroke="#3a3a3a" stroke-width="0.3">7</text>
<text transform="translate(1166.96,401.60) scale(0.965,1)" font-size="15.8" fill="#3a3a3a" stroke="#3a3a3a" stroke-width="0.3">8</text>
<text transform="translate(1217.26,401.60) scale(0.965,1)" font-size="15.8" fill="#3a3a3a" stroke="#3a3a3a" stroke-width="0.3">9</text>
<text transform="translate(1263.32,401.60) scale(0.965,1)" font-size="15.8" fill="#3a3a3a" stroke="#3a3a3a" stroke-width="0.3">&#8199;0</text><path transform="translate(1263.32,401.60) scale(0.00744,-0.00771)" d="M583,0 L583,1100 L223,880 L223,1060 L640,1409 L763,1409 L763,0 Z" fill="#3a3a3a" stroke="#3a3a3a" stroke-width="38.9"/>
<text transform="translate(177.4,166.3) rotate(-90) scale(1.22,1)" font-size="10.5" font-weight="bold" fill="#222">o (101)</text>
<text transform="translate(230.3,205.5) rotate(-90) scale(1.22,1)" font-size="10.5" font-weight="bold" fill="#222">&#916; (100)</text>
<text transform="translate(256.9,208.3) rotate(-90) scale(1.22,1)" font-size="10.5" font-weight="bold" fill="#222">&#916; (101)</text>
<text transform="translate(261.6,54.0) rotate(-90) scale(1.22,1)" font-size="10.5" font-weight="bold" fill="#222">o (103)</text>
<text transform="translate(284.5,54.0) rotate(-90) scale(1.22,1)" font-size="10.5" font-weight="bold" fill="#222">o (004)</text>
<text transform="translate(346.2,233.7) rotate(-90) scale(1.22,1)" font-size="10.5" font-weight="bold" fill="#222">o (200)</text>
<text transform="translate(380.9,198.6) rotate(-90) scale(1.22,1)" font-size="10.5" font-weight="bold" fill="#222">o (105)</text>
<text transform="translate(396.8,205.5) rotate(-90) scale(1.22,1)" font-size="10.5" font-weight="bold" fill="#222">o (121)</text>
<text transform="translate(413.7,247.6) rotate(-90) scale(1.22,1)" font-size="10.5" font-weight="bold" fill="#222">&#916; (110)</text>
<text transform="translate(500.5,244.6) rotate(-90) scale(1.22,1)" font-size="10.5" font-weight="bold" fill="#222">o (116)</text>
<text transform="translate(460.0,35.9) scale(1.08,1)" font-size="12" font-weight="bold" fill="#222">o Anatase TiO<tspan font-size="8.5">2</tspan></text>
<text transform="translate(459.4,53.9) scale(1.08,1)" font-size="12" font-weight="bold" fill="#222">&#916; Wurtzitic ZnO</text>
<text transform="translate(462.0,69.0) scale(1.08,1)" font-size="12" font-weight="bold" fill="#222">&#8226; Ti foil</text>
<text transform="translate(27.6,249.6) rotate(-90)" font-size="18.3" fill="#222" stroke="#222" stroke-width="0.3">Intensity (a.u.)</text>
<text transform="translate(701.5,251.0) rotate(-90)" font-size="18.4" fill="#222" stroke="#222" stroke-width="0.3">Counts (a.u.)</text>
<text x="323.6" y="430.7" font-size="18.3" fill="#222" stroke="#222" stroke-width="0.3">2&#952; (deg)</text>
<text x="966.9" y="432.0" font-size="18.6" fill="#222" stroke="#222" stroke-width="0.3">Energy (keV)</text>
<text x="-3.3" y="25.8" font-size="31" font-weight="bold" fill="#000">a</text>
<text x="17.4" y="26.2" font-size="31" font-weight="bold" fill="#000">)</text>
<text x="656.0" y="25.8" font-size="31" font-weight="bold" fill="#000">b</text>
<text x="675.9" y="26.2" font-size="31" font-weight="bold" fill="#000">)</text>
<text x="585.3" y="258.6" font-size="18" fill="#222">c</text>
<text x="589.4" y="316.3" font-size="18" fill="#666">b</text>
<text x="589.9" y="353.0" font-size="18" fill="#999">a</text>
<text x="787.1" y="89.9" font-size="17.5" fill="#222" stroke="#222" stroke-width="0.3">O</text>
<text x="811.2" y="31.8" font-size="17.5" fill="#222" stroke="#222" stroke-width="0.3">Zn</text>
<text x="775.0" y="221.3" font-size="17.5" fill="#222" stroke="#222" stroke-width="0.3">Ti</text>
<text x="842.7" y="177.9" font-size="14" fill="#222" stroke="#222" stroke-width="0.25">Zn</text>
<text x="988.2" y="92.2" font-size="17.5" fill="#222" stroke="#222" stroke-width="0.3">Ti</text>
<text x="1009.9" y="247.9" font-size="17.5" fill="#222" stroke="#222" stroke-width="0.3">Ti</text>
<text x="1191.1" y="253.1" font-size="17.5" fill="#222" stroke="#222" stroke-width="0.3">Zn</text>
<text x="1239.5" y="272.8" font-size="17.5" fill="#222" stroke="#222" stroke-width="0.3">Zn</text>
<text x="1144.7" y="308.5" font-size="18.1" fill="#222" stroke="#222" stroke-width="0.3">TiO<tspan font-size="11" dy="6">2</tspan><tspan dy="-6">-ZnONWs</tspan></text>
<text x="1144.7" y="354.2" font-size="18.1" fill="#9a9a9a" stroke="#9a9a9a" stroke-width="0.3">TiO<tspan font-size="11" dy="6">2</tspan><tspan dy="-6">-ZnONPs</tspan></text>
<circle cx="246.4" cy="225.7" r="2.3" fill="#3a3a3a"/><circle cx="284.3" cy="127.5" r="2.3" fill="#3a3a3a"/><circle cx="457.6" cy="218.6" r="2.3" fill="#3a3a3a"/><circle cx="514.4" cy="121.4" r="2.3" fill="#3a3a3a"/><circle cx="555.7" cy="205.6" r="2.3" fill="#3a3a3a"/>
</g>
</svg>
</body></html>
